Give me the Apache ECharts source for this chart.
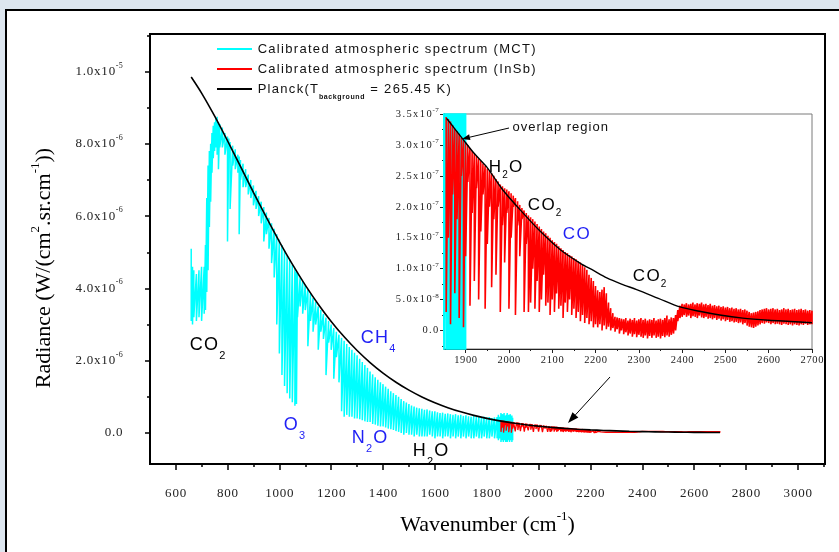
<!DOCTYPE html>
<html><head><meta charset="utf-8">
<script src="https://cdn.jsdelivr.net/npm/echarts@6/dist/echarts.min.js"></script>
<style>html,body{margin:0;padding:0;background:#dde6ef;}#c{width:839px;height:552px;}</style>
</head><body><div id="c"></div>
<script>
// All radiance values in units of 1e-7 W/(cm^2.sr.cm^-1)
// MCT spectrum (cyan): wavenumber, upper and lower edge of the plotted trace
const mctWave = [660,665,670,680,690,700,710,715,720,725,
730,735,740,745,750,755,760,765,770,780,
790,800,805,810,820,830,840,845,850,860,
870,880,890,900,910,920,930,940,950,960,
970,980,990,1000,1010,1020,1030,1040,1050,1060,
1066,1070,1080,1090,1100,1110,1120,1130,1140,1150,
1160,1170,1180,1190,1200,1210,1220,1230,1240,1250,
1260,1270,1280,1290,1300,1310,1320,1330,1340,1350,
1360,1370,1380,1390,1400,1410,1420,1430,1440,1450,
1460,1470,1480,1490,1500,1510,1520,1530,1540,1550,
1560,1570,1580,1590,1600,1610,1620,1630,1640,1650,
1660,1670,1680,1690,1700,1710,1720,1730,1740,1750,
1760,1770,1780,1790,1800,1810,1820,1830,1840,1845,
1850,1855,1858,1861,1864,1867,1870,1873,1876,1879,
1882,1885,1888,1891,1894,1897,1900];
const mctHigh = [51,46,45,44,45,46,46,52,65,74,
78,80,83,85,86,87,87.5,86,85.5,84.5,
83,82,81.5,80.5,79.5,78.5,77,76.5,75.5,74.5,
73,71.5,70,68.5,67,65.5,64,62.5,61,59.5,
58,56.5,55,53.5,52,50.5,49,48,46.5,45.5,
44.5,44,43,42,41,39.7,38.5,37.3,36.2,35,
34,32.9,31.9,31,30,29,28,27.2,26.3,25.5,
24.6,23.8,23,22.2,21.5,20.5,19.6,18.8,18,17,
16.2,15.4,14.7,14,13.5,12.8,12.2,11.5,11,10.5,
10,9.4,8.8,8.4,8,7.6,7.3,7,6.8,6.7,
6.4,6.5,6.2,6,6,5.7,5.5,5.6,5.3,5.4,
5.2,5,5.2,4.9,5,4.7,4.9,4.6,4.5,4.7,
4.4,4.6,4.3,4.5,4.3,4.4,4.1,4.3,4.4,5,
4.5,5.5,4,5.2,4.5,5.5,4.8,4.2,5,5.5,
3.8,5,4.5,5.2,4,4.8,4.2];
const mctLow = [31,30,32,31,32,31,33,34,39,45,
57,64,72,76,78,79,77,73,79,79,
77,53,76,62,74,73,72,55,70,68,
68,66,65,63,62,60,58,53,55,51,
47,43,30,22,16,13,11,9.5,8.5,7.5,
8,32,35,33,34,24,31,28,30,23,
28,26,16,25,23,15,21,14,6,4.5,
5,4.5,4.5,4,4,3.8,3.5,3.2,3,3,
2.5,2.3,2,1.8,1.8,1.5,1.2,1,0.8,0.5,
0.3,0,-0.5,0,-0.5,-0.5,-1,-0.5,-1,-1,
-1,-1,-0.5,-1,-1.5,-1,-1,-1.5,-1,-1,
-1.5,-1,-1.5,-1,-1.5,-1,-1.5,-1,-1.5,-1.5,
-1,-1.5,-1.5,-1,-1.5,-1.5,-1,-1.5,-1.5,-2,
-1.5,-2.5,-1,-2,-2.5,-1.5,-2,-2.5,-1,-2.5,
-2,-1.5,-2.5,-2,-1,-2.5,-2];

// InSb spectrum (red)
const insbWave = [1855,1860,1865,1870,1875,1880,1885,1890,1895,1900,
1905,1910,1915,1920,1925,1930,1935,1940,1945,1950,
1955,1960,1965,1970,1975,1980,1985,1990,1995,2000,
2005,2010,2015,2020,2025,2030,2035,2040,2045,2050,
2055,2060,2065,2070,2075,2080,2085,2090,2095,2100,
2105,2110,2115,2120,2125,2130,2135,2140,2145,2150,
2155,2160,2165,2170,2175,2180,2185,2190,2195,2200,
2205,2210,2215,2220,2225,2230,2235,2240,2245,2250,
2255,2260,2265,2270,2275,2280,2285,2290,2295,2300,
2305,2310,2315,2320,2325,2330,2335,2340,2345,2350,
2355,2360,2365,2370,2375,2380,2385,2390,2395,2400,
2405,2410,2415,2420,2425,2430,2435,2440,2445,2450,
2455,2460,2465,2470,2475,2480,2485,2490,2495,2500,
2505,2510,2515,2520,2525,2530,2535,2540,2545,2550,
2555,2560,2565,2570,2575,2580,2585,2590,2595,2600,
2605,2610,2615,2620,2625,2630,2635,2640,2645,2650,
2655,2660,2665,2670,2675,2680,2685,2690,2695,2700];
const insbHigh = [3.45,3.42,3.38,3.32,3.26,3.22,3.18,3.12,3.08,3.04,
3.0,2.95,2.9,2.86,2.82,2.78,2.74,2.7,2.66,2.62,
2.58,2.54,2.5,2.45,2.41,2.36,2.33,2.3,2.28,2.25,
2.22,2.18,2.14,2.09,2.03,1.98,1.94,1.9,1.86,1.83,
1.8,1.76,1.72,1.68,1.64,1.6,1.57,1.53,1.5,1.46,
1.43,1.4,1.36,1.33,1.3,1.27,1.25,1.22,1.2,1.17,
1.15,1.12,1.1,1.06,1.02,0.98,0.9,0.85,0.8,0.72,
0.65,0.62,0.66,0.7,0.6,0.45,0.36,0.28,0.22,0.21,
0.2,0.19,0.18,0.2,0.16,0.19,0.17,0.2,0.16,0.18,
0.2,0.17,0.19,0.16,0.18,0.17,0.2,0.16,0.18,0.19,
0.17,0.2,0.24,0.18,0.21,0.2,0.25,0.33,0.4,0.43,
0.42,0.44,0.42,0.43,0.45,0.42,0.44,0.43,0.45,0.42,
0.43,0.41,0.43,0.4,0.41,0.39,0.4,0.38,0.39,0.37,
0.38,0.36,0.37,0.35,0.36,0.34,0.35,0.33,0.34,0.32,
0.3,0.28,0.29,0.3,0.31,0.33,0.34,0.35,0.36,0.34,
0.35,0.36,0.34,0.35,0.33,0.34,0.36,0.34,0.35,0.33,
0.34,0.35,0.33,0.34,0.35,0.33,0.34,0.32,0.33,0.32];
const insbLow = [0.3,1.5,0.1,2.2,0.6,1.8,0.2,2.5,0.05,1.2,
2.4,0.4,1.9,0.8,2.3,0.5,1.6,2.2,0.35,1.4,
2.0,0.7,1.8,0.9,2.0,0.3,1.7,1.1,1.9,0.35,
1.5,2.0,0.25,1.7,1.2,1.8,0.3,1.4,0.3,0.45,
1.0,0.35,0.8,0.3,0.5,0.9,0.4,0.45,0.25,0.5,
0.3,0.6,0.35,0.4,0.2,0.45,0.3,0.5,0.25,0.35,
0.2,0.3,0.15,0.25,0.12,0.2,0.1,0.15,0.05,0.1,
0.05,0.1,0,0.08,0.02,0.06,0,0.04,-0.02,0.02,
-0.05,0,-0.06,-0.03,-0.08,-0.05,-0.1,-0.06,-0.11,-0.07,
-0.1,-0.12,-0.08,-0.13,-0.09,-0.12,-0.08,-0.12,-0.1,-0.13,
-0.09,-0.11,-0.08,-0.1,-0.07,-0.05,0,0.15,0.2,0.22,
0.25,0.22,0.24,0.2,0.23,0.22,0.2,0.24,0.21,0.2,
0.22,0.19,0.2,0.18,0.2,0.17,0.19,0.16,0.18,0.15,
0.17,0.14,0.15,0.13,0.14,0.12,0.13,0.1,0.12,0.08,
0.06,0.05,0.04,0.06,0.08,0.1,0.12,0.11,0.13,0.12,
0.1,0.12,0.1,0.11,0.1,0.09,0.11,0.1,0.09,0.1,
0.08,0.1,0.09,0.08,0.1,0.09,0.11,0.09,0.1,0.1];

// Planck curve, T = 265.45 K (main panel)
const planckWave = [660,700,750,800,850,900,950,1000,1050,1100,1150,1200,1250,1300,1350,1400,1450,1500,1550,1600,1650,1700,1750,1800,1850,1900,1950,2000,2050,2100,2150,2200,2250,2300,2350,2400,2450,2500,2550,2600,2650,2700];
const planckMain = [98.5,94.05,87.73,80.86,73.74,66.59,59.62,52.95,46.70,40.91,35.63,30.86,26.59,22.80,19.47,16.56,14.03,11.84,9.96,8.36,6.99,5.83,4.85,4.02,3.33,2.75,2.27,1.87,1.53,1.26,1.03,0.84,0.69,0.56,0.45,0.37,0.30,0.24,0.20,0.16,0.13,0.10];
// Planck curve as drawn in the inset
const planckInsetWave = [1856,1875,1894,1920,1949,1985,2026,2070,2118,2164,2195,2226,2260,2295,2345,2395,2440,2487,2540,2600,2650,2700];
const planckInset = [3.43,3.26,3.09,2.86,2.64,2.28,1.95,1.62,1.31,1.09,0.97,0.85,0.75,0.66,0.52,0.38,0.31,0.25,0.2,0.165,0.145,0.124];

// ticks and labels
const xTicks = [600,800,1000,1200,1400,1600,1800,2000,2200,2400,2600,2800,3000];
const xMinorTicks = [700,900,1100,1300,1500,1700,1900,2100,2300,2500,2700,2900,3100];
const yTicks = [0,20,40,60,80,100];
const yTickText = ['0.0','2.0x10','4.0x10','6.0x10','8.0x10','1.0x10'];
const yTickSup = ['','-6','-6','-6','-6','-5'];
const yMinorTicks = [10,30,50,70,90,110];
const insetXTicks = [1900,2000,2100,2200,2300,2400,2500,2600,2700];
const insetXMinor = [1950,2050,2150,2250,2350,2450,2550,2650];
const insetYTicks = [0,0.5,1,1.5,2,2.5,3,3.5];
const insetYText = ['0.0','5.0x10','1.0x10','1.5x10','2.0x10','2.5x10','3.0x10','3.5x10'];
const insetYSup = ['','-8','-7','-7','-7','-7','-7','-7'];
const insetYMinor = [-0.25,0.25,0.75,1.25,1.75,2.25,2.75,3.25];

const NAME_MCT = 'Calibrated atmospheric spectrum (MCT)';
const NAME_INSB = 'Calibrated atmospheric spectrum (InSb)';
const NAME_PL = 'Planck';

function sp(s, k){ let o=''; for (const ch of s) o += '{'+k+'|'+ch+'}'; return o; }
function zigzag(w, hi, lo){ const out=[]; for (let i=0;i<w.length;i++){ out.push([w[i],hi[i]]); out.push([w[i],lo[i]]); } return out; }
function pairs(w, v){ return w.map((x,i)=>[x,v[i]]); }

const SERIF = 'Liberation Serif', SANS = 'Liberation Sans';
const BLUE = '#1f1ff5';

const mctData = zigzag(mctWave, mctHigh, mctLow);
const insbData = zigzag(insbWave, insbHigh, insbLow);

function arrow(x1,y1,x2,y2,len,w){
  const dx=x2-x1, dy=y2-y1, L=Math.hypot(dx,dy), ux=dx/L, uy=dy/L;
  const bx=x2-ux*len, by=y2-uy*len;
  return [
    {type:'line', z:20, shape:{x1:x1,y1:y1,x2:bx,y2:by}, style:{stroke:'#000', lineWidth:1}},
    {type:'polygon', z:20, shape:{points:[[x2,y2],[bx-uy*w,by+ux*w],[bx+uy*w,by-ux*w]]}, style:{fill:'#000'}}
  ];
}
function label(x, y, parts, color, size, subSize, lh){
  return {type:'text', z:20, style:{x:x, y:y, align:'left', verticalAlign:'middle',
    text: parts.map(p => sp(p[0], p[1])).join(''),
    rich:{
      n:{fontFamily:SANS, fontSize:size, fill:color, lineHeight:lh, padding:[0,0.7,0,0.7]},
      s:{fontFamily:SANS, fontSize:subSize, fill:color, verticalAlign:'bottom', padding:[0,0.5,0,0.5]}
    }}};
}

const annotations = [
  label(189, 345.5, [['CO','n'],['2','s']], '#000', 18, 11, 32),
  label(283, 425, [['O','n'],['3','s']], BLUE, 18, 11, 32),
  label(351, 438.5, [['N','n'],['2','s'],['O','n']], BLUE, 18, 11, 32),
  label(412, 451.5, [['H','n'],['2','s'],['O','n']], '#000', 18, 11, 32),
  label(360, 338.5, [['CH','n'],['4','s']], BLUE, 18, 11, 32),
  label(488, 167.5, [['H','n'],['2','s'],['O','n']], '#000', 17, 10, 26),
  label(527, 205, [['CO','n'],['2','s']], '#000', 17, 10, 26),
  label(562, 234, [['CO','n']], BLUE, 17, 10, 26),
  label(632, 276.5, [['CO','n'],['2','s']], '#000', 17, 10, 26),
  {type:'text', z:20, style:{x:512, y:127, align:'left', verticalAlign:'middle',
    text: sp('overlap region','o'),
    rich:{o:{fontFamily:SANS, fontSize:13, fill:'#111', padding:[0,0.5,0,0.5]}}}}
];

const chart = echarts.init(document.getElementById('c'), null, {renderer:'canvas'});

const tickRichMain = {
  d:{fontFamily:SERIF, fontSize:13, lineHeight:20, color:'#222', padding:[0,0.4,0,0.4]},
  u:{fontFamily:SERIF, fontSize:8, color:'#222', verticalAlign:'top', padding:[0,0.2,0,0.2]}
};
const tickRichInset = {
  d:{fontFamily:SERIF, fontSize:10.5, lineHeight:14, color:'#222', padding:[0,0.7,0,0.7]},
  u:{fontFamily:SERIF, fontSize:7, color:'#222', verticalAlign:'top', padding:[0,0.2,0,0.2]}
};

const option = {
  backgroundColor:'#dde6ef',
  animation:false,
  grid:[
    {left:150, top:34, right:14, bottom:88, show:true, borderColor:'#000', borderWidth:2, backgroundColor:'transparent', containLabel:false, outerBoundsMode:'none'},
    {left:444, top:114, right:27, bottom:203, show:true, borderColor:'#7a7a7a', borderWidth:1, backgroundColor:'#fff', containLabel:false, outerBoundsMode:'none'}
  ],
  legend:{
    orient:'vertical', left:216, top:39, padding:0, itemGap:0, itemWidth:35, itemHeight:14,
    selectedMode:false,
    itemStyle:{opacity:0},
    data:[NAME_MCT, NAME_INSB, NAME_PL],
    formatter: function(name){
      if (name === NAME_PL) return sp('Planck(T','l') + sp('background','b') + sp(' = 265.45 K)','l');
      return sp(name,'l');
    },
    textStyle:{fontFamily:SANS, fontSize:13, color:'#111', lineHeight:20,
      rich:{
        l:{fontFamily:SANS, fontSize:13, color:'#111', lineHeight:20, padding:[0,0.65,0,0.65]},
        b:{fontFamily:SANS, fontSize:7, fontWeight:'bold', color:'#111', height:4, lineHeight:4, verticalAlign:'bottom', padding:[0,0.3,0,0.3]}
      }}
  },
  xAxis:[
    {gridIndex:0, type:'value', min:501, max:3105, position:'bottom',
      axisLine:{show:true, onZero:false, lineStyle:{color:'#000', width:2}},
      axisTick:{show:true, customValues:xTicks, length:6, lineStyle:{color:'#000', width:1.5}},
      axisLabel:{customValues:xTicks, margin:20, formatter:v=>sp(String(v),'d'), rich:tickRichMain},
      splitLine:{show:false},
      name:'{n|Wavenumber (cm}{u|-1}{n|)}', nameLocation:'middle', nameGap:46,
      nameTextStyle:{rich:{n:{fontFamily:SERIF, fontSize:22, lineHeight:30, color:'#000'}, u:{fontFamily:SERIF, fontSize:13, color:'#000', verticalAlign:'top'}}}
    },
    {gridIndex:0, type:'value', min:501, max:3105, position:'bottom',
      axisLine:{show:false, onZero:false}, axisLabel:{show:false}, splitLine:{show:false},
      axisTick:{show:true, customValues:xMinorTicks, length:3, lineStyle:{color:'#000', width:1.5}}},
    {gridIndex:1, type:'value', min:1850, max:2700, position:'bottom',
      axisLine:{show:true, onZero:false, lineStyle:{color:'#222', width:1}},
      axisTick:{show:true, customValues:insetXTicks, length:4, lineStyle:{color:'#222'}},
      axisLabel:{customValues:insetXTicks, margin:5, formatter:v=>sp(String(v),'d'),
        rich:{d:{fontFamily:SERIF, fontSize:10.5, lineHeight:12, color:'#222', padding:[0,0.3,0,0.3]}}},
      splitLine:{show:false}},
    {gridIndex:1, type:'value', min:1850, max:2700, position:'bottom',
      axisLine:{show:false, onZero:false}, axisLabel:{show:false}, splitLine:{show:false},
      axisTick:{show:true, customValues:insetXMinor, length:2, lineStyle:{color:'#222'}}}
  ],
  yAxis:[
    {gridIndex:0, type:'value', min:-8.6, max:110.4, position:'left',
      axisLine:{show:true, onZero:false, lineStyle:{color:'#000', width:2}},
      axisTick:{show:true, customValues:yTicks, length:5, lineStyle:{color:'#000', width:1.5}},
      axisLabel:{customValues:yTicks, margin:27, formatter:function(v){
        const i = yTicks.indexOf(v); if (i<0) return '';
        return sp(yTickText[i],'d') + (yTickSup[i] ? sp(yTickSup[i],'u') : '');
      }, rich:tickRichMain},
      splitLine:{show:false},
      name:'{n|Radiance (W/(cm}{u|2}{n|.sr.cm}{u|-1}{n|))}', nameLocation:'middle', nameGap:91,
      nameTextStyle:{padding:[0,38,0,0], rich:{n:{fontFamily:SERIF, fontSize:22, lineHeight:30, color:'#000'}, u:{fontFamily:SERIF, fontSize:13, color:'#000', verticalAlign:'top'}}}
    },
    {gridIndex:0, type:'value', min:-8.6, max:110.4, position:'left',
      axisLine:{show:false, onZero:false}, axisLabel:{show:false}, splitLine:{show:false},
      axisTick:{show:true, customValues:yMinorTicks, length:3, lineStyle:{color:'#000', width:1.5}}},
    {gridIndex:1, type:'value', min:-0.3, max:3.5, position:'left',
      axisLine:{show:true, onZero:false, lineStyle:{color:'#222', width:1}},
      axisTick:{show:true, customValues:insetYTicks, length:4, lineStyle:{color:'#222'}},
      axisLabel:{customValues:insetYTicks, margin:5, formatter:function(v){
        const i = insetYTicks.indexOf(v); if (i<0) return '';
        return sp(insetYText[i],'d') + (insetYSup[i] ? sp(insetYSup[i],'u') : '');
      }, rich:tickRichInset},
      splitLine:{show:false}},
    {gridIndex:1, type:'value', min:-0.3, max:3.5, position:'left',
      axisLine:{show:false, onZero:false}, axisLabel:{show:false}, splitLine:{show:false},
      axisTick:{show:true, customValues:insetYMinor, length:2, lineStyle:{color:'#222'}}}
  ],
  series:[
    {name:NAME_MCT, type:'line', xAxisIndex:0, yAxisIndex:0, data:mctData, symbol:'none', showSymbol:false,
      lineStyle:{color:'#00ffff', width:1.5}, itemStyle:{color:'#00ffff'}, z:2, clip:true},
    {name:NAME_INSB, type:'line', xAxisIndex:0, yAxisIndex:0, data:insbData, symbol:'none', showSymbol:false,
      lineStyle:{color:'#ff0000', width:1.3}, itemStyle:{color:'#ff0000'}, z:3, clip:true},
    {name:NAME_PL, type:'line', xAxisIndex:0, yAxisIndex:0, data:pairs(planckWave, planckMain), symbol:'none', showSymbol:false, smooth:0.3,
      lineStyle:{color:'#000', width:1.6}, itemStyle:{color:'#000'}, z:4, clip:true},
    {name:NAME_MCT, type:'line', xAxisIndex:2, yAxisIndex:2, data:mctData, symbol:'none', showSymbol:false,
      lineStyle:{color:'#00ffff', width:1.5}, itemStyle:{color:'#00ffff'}, z:5, clip:true},
    {name:NAME_INSB, type:'line', xAxisIndex:2, yAxisIndex:2, data:insbData, symbol:'none', showSymbol:false,
      lineStyle:{color:'#ff0000', width:1.6}, itemStyle:{color:'#ff0000'}, z:6, clip:true},
    {name:NAME_PL, type:'line', xAxisIndex:2, yAxisIndex:2, data:pairs(planckInsetWave, planckInset), symbol:'none', showSymbol:false, smooth:0.3,
      lineStyle:{color:'#000', width:1.4}, itemStyle:{color:'#000'}, z:7, clip:true}
  ],
  graphic:[
    {type:'rect', z:-100, silent:true, shape:{x:6, y:10, width:900, height:600}, style:{fill:'#fff', stroke:'#000', lineWidth:2}}
  ].concat(arrow(610,377,568,423,11,4)).concat(arrow(509,128,462,139,8,3)).concat(annotations)
};
chart.setOption(option);
</script></body></html>
